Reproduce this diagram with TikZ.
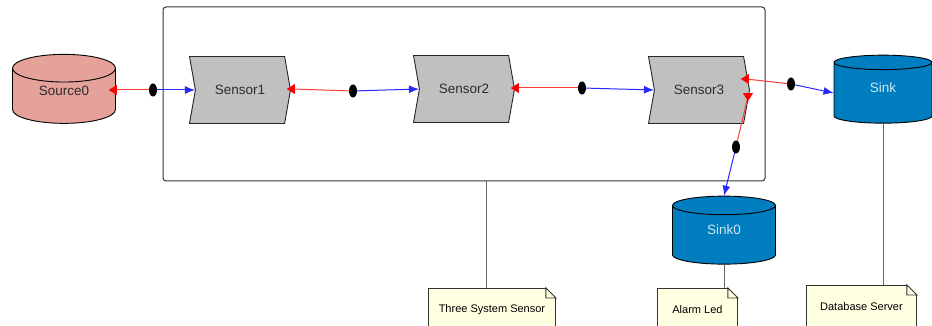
\documentclass[tikz,border=0pt]{standalone}
\usepackage{fontspec}
\setmainfont{Liberation Sans}
\usetikzlibrary{shapes,arrows.meta,calc}

\definecolor{sourcepink}{RGB}{228,162,154}
\definecolor{sinkblue}{RGB}{0,125,190}
\definecolor{sinktext}{RGB}{205,230,245}
\definecolor{sensorgray}{RGB}{192,192,192}
\definecolor{labelgray}{RGB}{45,45,45}
\definecolor{memoyellow}{RGB}{255,255,225}
\definecolor{portred}{RGB}{255,0,0}
\definecolor{wirered}{RGB}{255,60,60}
\definecolor{wireblue}{RGB}{40,40,255}

\begin{document}
\begin{tikzpicture}[x=1pt, y=-1pt]
\tikzstyle{frame}=[rectangle, draw=black!80, line width=1pt, rounded corners=3pt, minimum width=602pt, minimum height=174pt, inner sep=0pt]
\tikzstyle{store}=[cylinder, shape border rotate=90, draw=black, line width=0.9pt, aspect=0.55, inner sep=0pt, minimum width=103pt, minimum height=69pt, text depth=11pt, font=\fontsize{13.5}{15}\selectfont]
\tikzstyle{sensor}=[signal, signal from=west, signal to=east, signal pointer angle=160, draw=black!85, line width=0.9pt, fill=sensorgray, minimum width=101pt, minimum height=67pt, inner sep=0pt, text=labelgray, font=\fontsize{13.5}{15}\selectfont]
\tikzstyle{port}=[isosceles triangle, isosceles triangle stretches, fill=portred, minimum width=10pt, minimum height=8pt, inner sep=0pt]
\tikzstyle{joint}=[ellipse, fill=black, minimum width=8pt, minimum height=13pt, inner sep=0pt]
\tikzstyle{outwire}=[draw=wirered, line width=1pt]
\tikzstyle{inwire}=[draw=wireblue, line width=1pt, -{Latex[length=10pt,width=8pt]}]
\tikzstyle{memo}=[rectangle, draw=black!80, line width=0.9pt, fill=memoyellow, minimum height=42pt, inner sep=0pt, anchor=north west, text=black, font=\fontsize{11}{13}\selectfont]
\tikzstyle{memoline}=[draw=black!60, line width=0.9pt]

\useasboundingbox (0,0) rectangle (932,326);
\clip (0,0) rectangle (932,326);

% system box
\node[frame] (System) at (464,94) {};

% stores
\node[store, fill=sourcepink, text=labelgray] (Source0) at (64,96) {Source0};
\node[store, fill=sinkblue, text=sinktext, minimum width=98pt, minimum height=68pt] (Sink) at (883,93) {Sink};
\node[store, fill=sinkblue, text=sinktext, minimum height=68pt] (Sink0) at (724,235) {Sink0};

% sensors
\node[sensor] (Sensor1) at (240,90) {Sensor1};
\node[sensor] (Sensor2) at (464,89) {Sensor2};
\node[sensor] (Sensor3) at (699,90) {Sensor3};

% output ports
\node[port, rotate=180] (P0) at (114,90) {};
\node[port, rotate=180] (P1) at (292,89) {};
\node[port, rotate=180] (P2) at (516,88) {};
\node[port, rotate=180] (P3a) at (746,79) {};
\node[port, rotate=270] (P3b) at (748,96) {};

% joints
\node[joint] (J0) at (153,90) {};
\node[joint] (J1) at (353,91) {};
\node[joint] (J2) at (582,88) {};
\node[joint] (J3) at (791,84) {};
\node[joint] (J4) at (736,147) {};

% connectors
\draw[outwire] (P0) -- (J0);
\draw[inwire] (J0) -- (Sensor1.west);
\draw[outwire] (P1) -- (J1);
\draw[inwire] (J1) -- (Sensor2.west);
\draw[outwire] (P2) -- (J2);
\draw[inwire] (J2) -- (Sensor3.west);
\draw[outwire] (P3a) -- (J3);
\draw[inwire] (J3) -- (Sink.west);
\draw[outwire] (P3b) -- (J4);
\draw[inwire] (J4) -- (Sink0.north);

% notes
\node[memo, minimum width=127pt] (N0) at (428,288) {Three System Sensor};
\node[memo, minimum width=80pt] (N1) at (657,288) {Alarm Led};
\node[memo, minimum width=110pt] (N2) at (806,285) {Database Server};
\fill[white] ($(N0.north east)+(-10,0)$) -- (N0.north east) -- ($(N0.north east)+(0,10)$) -- cycle;
\draw[black!80, line width=0.9pt] ($(N0.north east)+(-10,0)$) -- ++(0,10) -- ++(10,0) -- cycle;
\fill[white] ($(N1.north east)+(-10,0)$) -- (N1.north east) -- ($(N1.north east)+(0,10)$) -- cycle;
\draw[black!80, line width=0.9pt] ($(N1.north east)+(-10,0)$) -- ++(0,10) -- ++(10,0) -- cycle;
\fill[white] ($(N2.north east)+(-10,0)$) -- (N2.north east) -- ($(N2.north east)+(0,10)$) -- cycle;
\draw[black!80, line width=0.9pt] ($(N2.north east)+(-10,0)$) -- ++(0,10) -- ++(10,0) -- cycle;

% note links
\draw[memoline] ([xshift=-6pt]N0.north) -- ([xshift=-6pt]N0.north |- System.south);
\draw[memoline] (Sink0.south) -- (Sink0.south |- N1.north);
\draw[memoline] (Sink.south) -- (Sink.south |- N2.north);
\end{tikzpicture}
\end{document}
